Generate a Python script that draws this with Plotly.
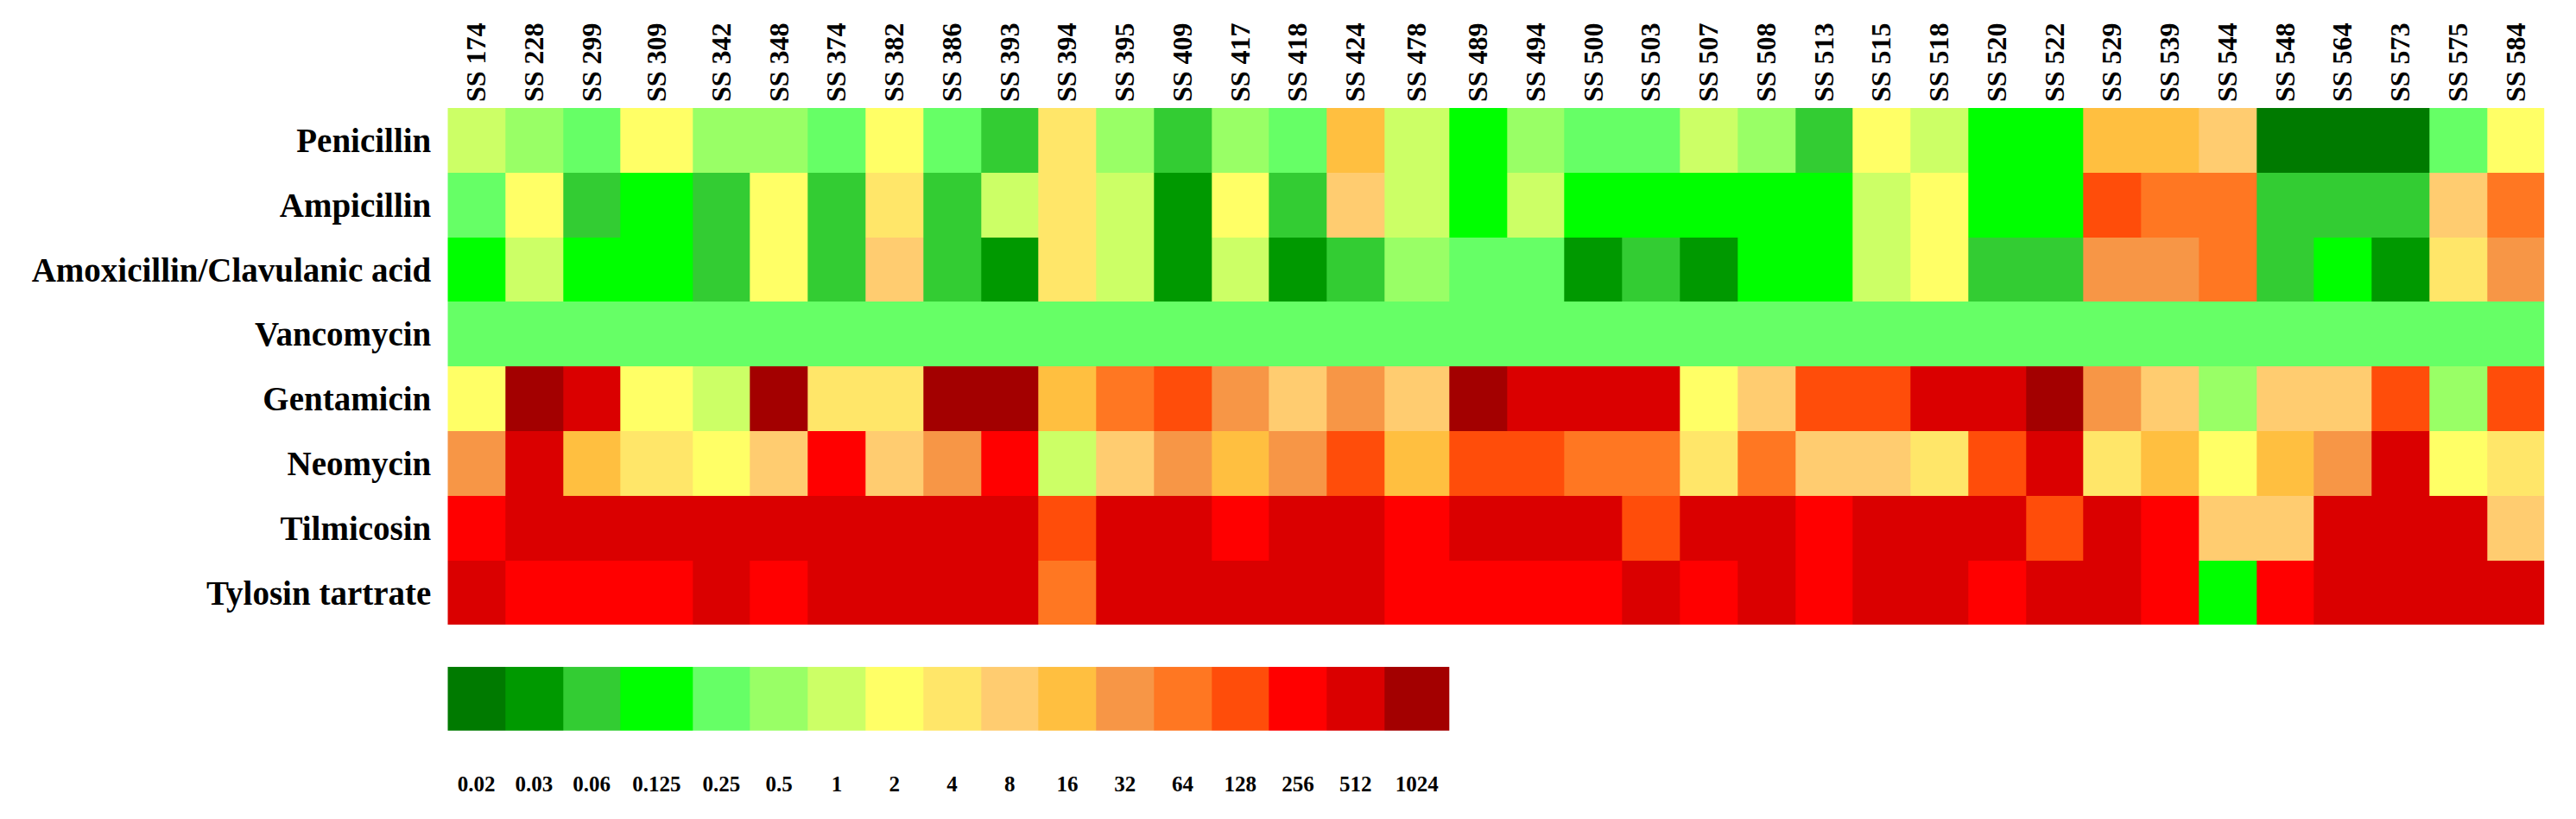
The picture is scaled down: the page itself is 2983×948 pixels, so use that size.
import plotly.graph_objects as go

# ---------------- data ----------------
isolates = ["SS 174", "SS 228", "SS 299", "SS 309", "SS 342", "SS 348", "SS 374", "SS 382",
            "SS 386", "SS 393", "SS 394", "SS 395", "SS 409", "SS 417", "SS 418", "SS 424",
            "SS 478", "SS 489", "SS 494", "SS 500", "SS 503", "SS 507", "SS 508", "SS 513",
            "SS 515", "SS 518", "SS 520", "SS 522", "SS 529", "SS 539", "SS 544", "SS 548",
            "SS 564", "SS 573", "SS 575", "SS 584"]

antibiotics = ["Penicillin", "Ampicillin", "Amoxicillin/Clavulanic acid", "Vancomycin",
               "Gentamicin", "Neomycin", "Tilmicosin", "Tylosin tartrate"]

mic_levels = [0.02, 0.03, 0.06, 0.125, 0.25, 0.5, 1, 2, 4, 8, 16, 32, 64, 128, 256, 512, 1024]
level_labels = ["0.02", "0.03", "0.06", "0.125", "0.25", "0.5", "1", "2", "4", "8", "16",
                "32", "64", "128", "256", "512", "1024"]

penicillin = [1, 0.5, 0.25, 2, 0.5, 0.5, 0.25, 2, 0.25, 0.06, 4, 0.5, 0.06, 0.5, 0.25, 16, 1, 0.125,
              0.5, 0.25, 0.25, 1, 0.5, 0.06, 2, 1, 0.125, 0.125, 16, 16, 8, 0.02, 0.02, 0.02, 0.25, 2]
ampicillin = [0.25, 2, 0.06, 0.125, 0.06, 2, 0.06, 4, 0.06, 1, 4, 1, 0.03, 2, 0.06, 8, 1, 0.125,
              1, 0.125, 0.125, 0.125, 0.125, 0.125, 1, 2, 0.125, 0.125, 128, 64, 64, 0.06, 0.06, 0.06, 8, 64]
amox_clav = [0.125, 1, 0.125, 0.125, 0.06, 2, 0.06, 8, 0.06, 0.03, 4, 1, 0.03, 1, 0.03, 0.06, 0.5, 0.25,
             0.25, 0.03, 0.06, 0.03, 0.125, 0.125, 1, 2, 0.06, 0.06, 32, 32, 64, 0.06, 0.125, 0.03, 4, 32]
vancomycin = [0.25] * 36
gentamicin = [2, 1024, 512, 2, 1, 1024, 4, 4, 1024, 1024, 16, 64, 128, 32, 8, 32, 8, 1024,
              512, 512, 512, 2, 8, 128, 128, 512, 512, 1024, 32, 8, 0.5, 8, 8, 128, 0.5, 128]
neomycin = [32, 512, 16, 4, 2, 8, 256, 8, 32, 256, 1, 8, 32, 16, 32, 128, 16, 128,
            128, 64, 64, 4, 64, 8, 8, 4, 128, 512, 4, 16, 2, 16, 32, 512, 2, 4]
tilmicosin = [256, 512, 512, 512, 512, 512, 512, 512, 512, 512, 128, 512, 512, 256, 512, 512, 256, 512,
              512, 512, 128, 512, 512, 256, 512, 512, 512, 128, 512, 256, 8, 8, 512, 512, 512, 8]
tylosin = [512, 256, 256, 256, 512, 256, 512, 512, 512, 512, 64, 512, 512, 512, 512, 512, 256, 256,
           256, 256, 512, 256, 512, 256, 512, 512, 256, 512, 512, 256, 0.125, 256, 512, 512, 512, 512]

rows = [penicillin, ampicillin, amox_clav, vancomycin, gentamicin, neomycin, tilmicosin, tylosin]

# ---------------- style ----------------
level_colors = ["#007A00", "#009900", "#33CC33", "#00FF00", "#66FF66", "#99FF66", "#CCFF66",
                "#FFFF66", "#FFE669", "#FFCC70", "#FFBF40", "#F79646", "#FF7722", "#FF4D0A",
                "#FF0000", "#DA0000", "#A30000"]
col_rel_width = [1.0] * len(isolates)
col_rel_width[3] = 1.25
col_rel_width[16] = 1.125

FONT = "Times New Roman, Liberation Serif, serif"
PAGE_OFF = 8                      # default body margin of the html page
W, H = 2983 - PAGE_OFF, 948 - PAGE_OFF


def fx(px):
    return (px - PAGE_OFF) / W


def fy(px):
    return 1 - (px - PAGE_OFF) / H


n = len(mic_levels)
colorscale = []
for i, c in enumerate(level_colors):
    colorscale.append([i / n, c])
    colorscale.append([(i + 1) / n, c])

edges = [0.0]
for w in col_rel_width:
    edges.append(edges[-1] + w)
centers = [(edges[i] + edges[i + 1]) / 2 for i in range(len(isolates))]
total = edges[-1]

z = [[mic_levels.index(v) for v in r] for r in rows]
txt = [[str(v) for v in r] for r in rows]

fig = go.Figure()
fig.add_trace(go.Heatmap(
    z=z, x=edges, y=list(range(len(antibiotics))), text=txt,
    colorscale=colorscale, zmin=-0.5, zmax=n - 0.5, showscale=False,
    hovertemplate="%{text}<extra></extra>", xaxis="x", yaxis="y",
))

# legend strip (same column grid)
leg_edges = edges[:n + 1]
leg_centers = centers[:n]
fig.add_trace(go.Heatmap(
    z=[list(range(n))], x=leg_edges, y=[0], text=[level_labels],
    colorscale=colorscale, zmin=-0.5, zmax=n - 0.5, showscale=False,
    hovertemplate="%{text}<extra></extra>", xaxis="x2", yaxis="y2",
))

x0, x1 = fx(518.3), fx(2946.7)
fig.update_layout(
    width=W, height=H, margin=dict(l=0, r=0, t=0, b=0),
    paper_bgcolor="white", plot_bgcolor="white", template="none",
    xaxis=dict(domain=[x0, x1], range=[0, total], side="top", tickmode="array",
               tickvals=centers, ticktext=isolates, tickangle=-90, showgrid=False,
               zeroline=False, showline=False, ticks="", ticklabelstandoff=6,
               tickfont=dict(family=FONT, size=32, color="black", weight="bold"), anchor="y"),
    yaxis=dict(domain=[fy(723.3), fy(125)], range=[len(antibiotics) - 0.5, -0.5],
               tickmode="array", tickvals=list(range(len(antibiotics))), ticktext=antibiotics,
               showgrid=False, zeroline=False, showline=False, ticks="", ticklabelstandoff=18,
               tickfont=dict(family=FONT, size=39, color="black", weight="bold"), anchor="x"),
    xaxis2=dict(domain=[x0, x1], range=[0, total], side="bottom", tickmode="array",
                tickvals=leg_centers, ticktext=level_labels, showgrid=False, zeroline=False,
                showline=False, ticks="", ticklabelstandoff=44, anchor="y2",
                tickfont=dict(family=FONT, size=25, color="black", weight="bold")),
    yaxis2=dict(domain=[fy(846), fy(771.7)], range=[-0.5, 0.5], showticklabels=False,
                showgrid=False, zeroline=False, showline=False, ticks="", anchor="x2"),
)

fig.write_html("out.html")
